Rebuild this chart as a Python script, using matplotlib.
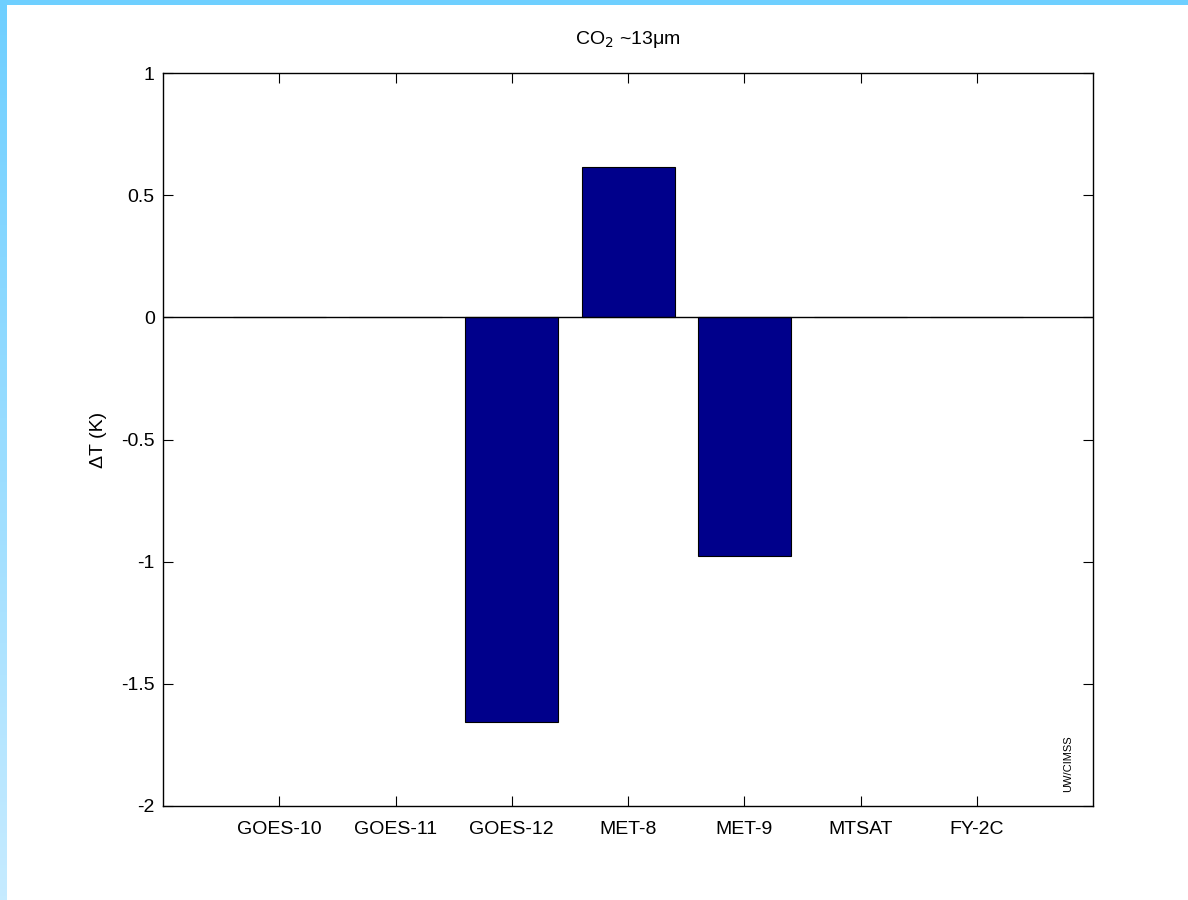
import matplotlib
matplotlib.use("Agg")
import matplotlib.pyplot as plt
import numpy as np
from matplotlib.colors import LinearSegmentedColormap

plt.rcParams['font.family'] = ['Liberation Sans', 'DejaVu Sans']

satellites = ["GOES-10", "GOES-11", "GOES-12", "MET-8", "MET-9", "MTSAT", "FY-2C"]
delta_t = [0.0, 0.0, -1.655, 0.614, -0.978, 0.0, 0.0]

fig = plt.figure(figsize=(11.88, 9), dpi=100)
fig.patch.set_facecolor("white")

# light blue frame: solid band on top, fading band on the left
top = fig.add_axes([0, 1 - 5 / 900, 1, 5 / 900])
top.set_axis_off()
top.add_patch(plt.Rectangle((0, 0), 1, 1, color="#6ecfff", transform=top.transAxes))
left = fig.add_axes([0, 0, 6 / 1188, 1])
left.set_axis_off()
cmap = LinearSegmentedColormap.from_list("edge", ["#6ecfff", "#c6ebff"])
left.imshow(np.linspace(0, 1, 256).reshape(-1, 1), aspect="auto", cmap=cmap,
            extent=[0, 1, 0, 1])

ax = fig.add_axes([163 / 1188, 1 - 806 / 900, (1093 - 163) / 1188, (806 - 73) / 900])
x = np.arange(1, len(satellites) + 1)
ax.bar(x, delta_t, width=0.8, color="#00008b", edgecolor="black", linewidth=0.8, zorder=2)
ax.axhline(0, color="black", linewidth=1, zorder=3)

ax.set_xlim(0, 8)
ax.set_ylim(-2, 1)
ax.set_xticks(x)
ax.set_xticklabels(satellites)
ax.set_yticks([-2, -1.5, -1, -0.5, 0, 0.5, 1])
ax.set_yticklabels(["-2", "-1.5", "-1", "-0.5", "0", "0.5", "1"])
ax.tick_params(direction="in", length=7, width=0.8, top=True, right=True,
               labelsize=14)
ax.tick_params(axis="x", pad=11)
ax.tick_params(axis="y", pad=6)
for s in ax.spines.values():
    s.set_linewidth(1)

ax.set_ylabel("ΔT (K)", fontsize=14, labelpad=10)
ax.set_title(r"CO$_2$ ~13μm", fontsize=14, pad=21)

ax.text(0.973, 0.058, "UW/CIMSS", transform=ax.transAxes, rotation=90,
        fontsize=8, ha="center", va="center")

fig.savefig("out.png", dpi=100)
